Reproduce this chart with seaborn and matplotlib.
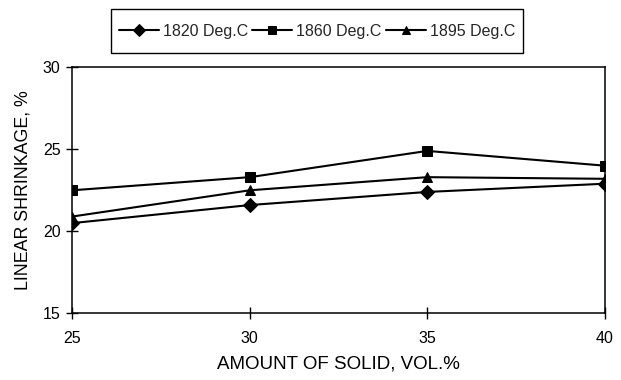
import matplotlib
matplotlib.use("Agg")
import matplotlib.pyplot as plt
from matplotlib.patches import Rectangle
import seaborn as sns
import pandas as pd

solid = [25, 30, 35, 40]
series_names = ["1820 Deg.C", "1860 Deg.C", "1895 Deg.C"]
s1820 = [20.5, 21.6, 22.4, 22.9]
s1860 = [22.5, 23.3, 24.9, 24.0]
s1895 = [20.9, 22.5, 23.3, 23.2]
x_ticks = [25, 30, 35, 40]
y_ticks = [15, 20, 25, 30]

rows = []
for name, vals in zip(series_names, [s1820, s1860, s1895]):
    for x, v in zip(solid, vals):
        rows.append({"solid": x, "shrink": v, "series": name})
df = pd.DataFrame(rows)

sns.set_theme(style="white")
plt.rcParams['font.family'] = ['Liberation Sans', 'DejaVu Sans']

fig = plt.figure(figsize=(6.21, 3.80), dpi=100)
ax = fig.add_axes([0.1164, 0.1755, 0.974 - 0.1164, 0.823 - 0.1755])

markers = {"1820 Deg.C": "D", "1860 Deg.C": "s", "1895 Deg.C": "^"}
palette = {n: "black" for n in series_names}
sns.lineplot(data=df, x="solid", y="shrink", hue="series", style="series",
             markers=markers, dashes=False, palette=palette, ax=ax,
             linewidth=1.5, markersize=7.5, markeredgecolor="black", legend=True)

ax.set_xlim(25, 40)
ax.set_ylim(15, 30)
ax.set_xticks(x_ticks)
ax.set_yticks(y_ticks)
ax.tick_params(axis="both", direction="inout", length=9, width=1, colors="black",
               labelsize=11.5, bottom=True, left=True)
ax.tick_params(axis="x", pad=8)
ax.tick_params(axis="y", pad=4)
for sp in ax.spines.values():
    sp.set_color("black")
    sp.set_linewidth(1.1)
    sp.set_visible(True)

ax.set_xlabel("AMOUNT OF SOLID, VOL.%", fontsize=13.5, color="black", labelpad=7)
ax.set_ylabel("LINEAR SHRINKAGE, %", fontsize=12.8, color="black", labelpad=8)

handles, labels = ax.get_legend_handles_labels()
ax.get_legend().remove()
# legend box (frame drawn separately to get the taller box of the original)
fig.patches.append(Rectangle((0.1787, 0.8605), 0.6634, 0.1158,
                             transform=fig.transFigure, fill=False,
                             edgecolor="black", linewidth=1.0))
leg = fig.legend(handles, labels, loc="center", bbox_to_anchor=(0.5105, 0.918),
                 ncol=3, frameon=False, fontsize=11.5,
                 handlelength=2.5, columnspacing=0.25,
                 handletextpad=0.25, borderpad=0.3, markerscale=0.8)

fig.savefig("out.png", dpi=100)
